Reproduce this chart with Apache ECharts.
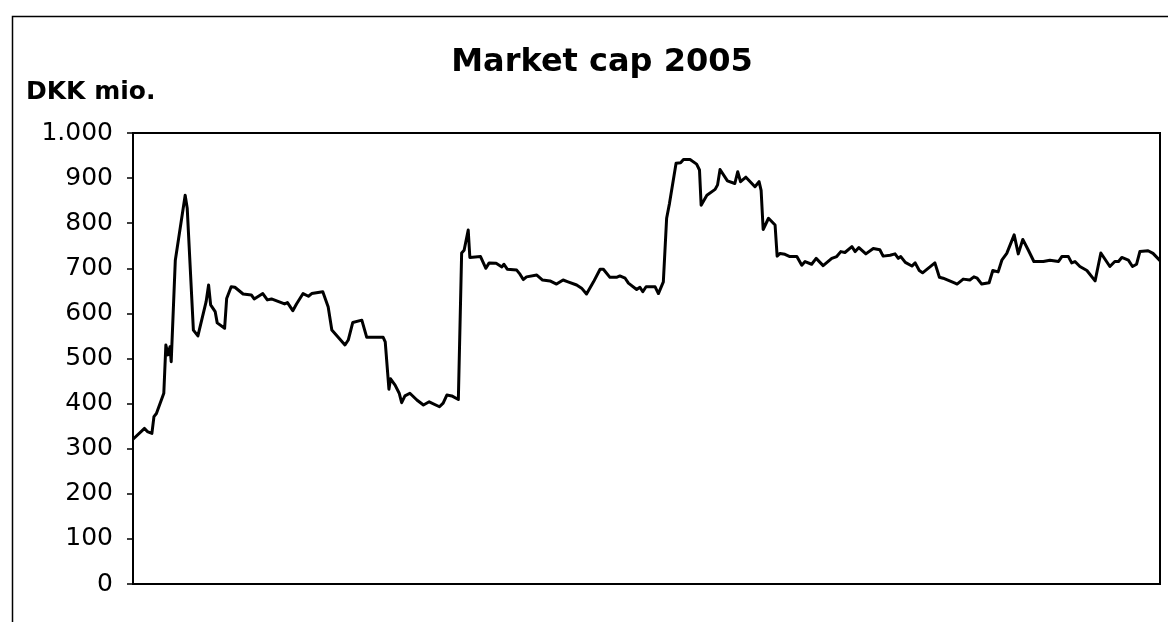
<!DOCTYPE html>
<html>
<head>
<meta charset="utf-8">
<script src="https://cdn.jsdelivr.net/npm/echarts@6/dist/echarts.min.js"></script>
<style>
html,body{margin:0;padding:0;background:#fff;}
#chart{width:1168px;height:622px;}
</style>
</head>
<body>
<div id="chart"></div>
<script>
// Trading day index (2005) of each vertex
var days = [0,2.8,3.5,4.6,5.1,5.7,7.5,8.0,8.5,9.0,9.3,10.3,12.7,13.2,14.7,15.8,17.8,18.4,18.9,20.0,
  20.5,22.3,22.8,23.9,24.8,26.8,28.8,29.5,31.6,32.7,33.7,36.9,37.6,38.9,39.8,41.4,42.7,43.5,46.2,47.5,
  48.4,51.6,52.4,53.5,55.7,56.9,60.9,61.4,62.3,62.7,63.8,64.8,65.4,66.2,67.4,69.1,70.7,72.1,74.6,75.5,
  76.4,77.6,79.2,80.0,80.6,81.6,82.0,84.6,85.9,86.7,88.4,89.8,90.3,91.1,93.4,94.2,95.0,95.8,98.3,99.7,
  101.5,103.1,104.7,105.9,108.0,109.2,110.4,112.1,113.7,114.5,116.1,117.7,118.5,119.8,120.6,122.6,123.4,124.1,124.9,127.1,
  127.9,129.1,129.9,130.6,132.2,133.3,134.0,135.6,137.2,137.9,138.3,139.7,141.7,142.3,142.9,144.7,146.5,147.2,147.9,149.2,
  151.4,152.4,152.9,153.4,154.7,156.3,156.8,157.5,158.7,159.9,161.6,162.8,163.6,165.2,166.3,168.0,170.1,171.3,172.3,173.3,
  175.0,175.8,176.7,178.4,180.2,181.8,182.6,184.3,185.5,186.3,186.9,188.0,189.6,190.4,191.4,192.2,195.2,196.3,197.2,200.1,
  200.6,202.1,203.7,204.7,205.5,206.6,208.4,209.3,210.6,211.5,212.7,214.5,215.5,216.6,217.9,219.3,221.6,223.2,225.3,226.1,
  227.7,228.5,229.3,230.5,232.2,234.2,235.6,237.8,239.0,239.9,240.7,242.3,243.3,244.3,245.1,247.1,248.3,250.0];
// Market cap, DKK mio.
var marketCap = [321,345,338,334,371,378,423,530,508,526,493,718,862,833,563,550,626,663,619,604,
  579,567,633,659,658,643,641,632,644,630,632,621,624,606,621,644,638,644,648,615,
  563,530,541,580,585,547,547,537,432,455,441,423,402,417,423,408,397,404,393,401,
  419,417,409,734,740,785,724,726,700,712,711,703,709,698,696,687,675,681,685,674,
  672,665,674,670,663,656,643,670,698,698,680,680,683,678,667,653,658,648,659,659,
  644,670,811,844,933,934,941,941,931,918,840,862,875,885,919,894,888,914,892,902,
  881,892,873,786,811,796,727,733,731,726,726,707,715,709,722,706,722,726,737,735,
  748,737,746,732,744,741,727,729,732,722,726,713,705,712,695,690,712,680,678,667,
  665,676,674,681,678,665,668,695,692,718,733,774,732,764,741,715,715,718,715,726,
  726,712,715,704,695,672,734,704,715,715,724,718,704,709,737,739,733,717];
var yTicks = [0,100,200,300,400,500,600,700,800,900,1000];
var titleText = 'Market cap 2005';
var unitText = 'DKK mio.';

var points = days.map(function(d,i){ return [d, marketCap[i]]; });
var fontFam = '"DejaVu Sans", Verdana, sans-serif';

var chart = echarts.init(document.getElementById('chart'), null, {renderer:'canvas'});
chart.setOption({
  animation:false,
  backgroundColor:'#fff',
  title:[{
    text: titleText,
    left: 597, textAlign:'center', top: 42,
    textStyle:{fontFamily:fontFam, fontWeight:'bold', fontSize:32, color:'#000'}
  },{
    text: unitText,
    left: 21, top: 75,
    textStyle:{fontFamily:fontFam, fontWeight:'bold', fontSize:25, color:'#000'}
  }],
  graphic:[{
    type:'rect', left:10, top:14, silent:true,
    shape:{width:1200, height:700},
    style:{fill:null, stroke:'#000', lineWidth:1.5}
  }],
  grid:{left:133, right:8, top:133, bottom:38, show:true, borderColor:'#000', borderWidth:2, backgroundColor:'transparent'},
  xAxis:{
    type:'value', min:0, max:250,
    axisLine:{show:true, lineStyle:{color:'#000', width:2}},
    axisTick:{show:false}, axisLabel:{show:false}, splitLine:{show:false}
  },
  yAxis:{
    type:'value', min:yTicks[0], max:yTicks[yTicks.length-1], interval:100,
    axisLine:{show:true, lineStyle:{color:'#000', width:2}},
    axisTick:{show:true, inside:false, length:6, lineStyle:{color:'#000', width:1.5}},
    axisLabel:{margin:20, fontFamily:fontFam, fontSize:25, color:'#000',
      formatter:function(v){ return String(v).replace(/\B(?=(\d{3})+(?!\d))/g,'.'); }},
    splitLine:{show:false}
  },
  series:[{
    type:'line', data:points, showSymbol:false, symbol:'none',
    lineStyle:{color:'#000', width:3, join:'round'}, itemStyle:{color:'#000'}
  }]
});
</script>
</body>
</html>
